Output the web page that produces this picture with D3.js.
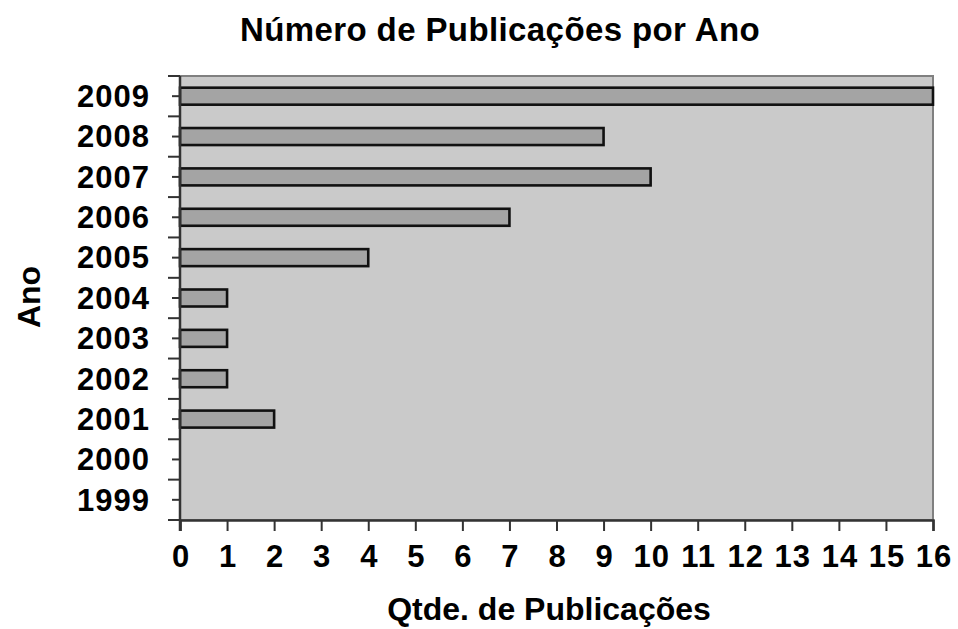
<!DOCTYPE html>
<html>
<head>
    <style>
        body { margin: 0; background: #fff; }
        text { font-family: "Liberation Sans", Arial, sans-serif; fill: #000; }
        .title { font-size: 33px; font-weight: bold; letter-spacing: 0.4px; }
        .tick text { font-size: 31px; font-weight: bold; letter-spacing: 1px; }
        .axis-title { font-size: 32px; font-weight: bold; }
    </style>
    <script src="https://d3js.org/d3.v7.min.js"></script>
</head>
<body>
    <svg width="958" height="629"></svg>
    <script>
        var anos = ["1999", "2000", "2001", "2002", "2003", "2004", "2005", "2006", "2007", "2008", "2009"];
        var publicacoes = [0, 0, 2, 1, 1, 1, 4, 7, 10, 9, 16];
        var xTicks = [0, 1, 2, 3, 4, 5, 6, 7, 8, 9, 10, 11, 12, 13, 14, 15, 16];

        var data = anos.map(function(a, i) { return { ano: a, n: publicacoes[i] }; });

        var svg = d3.select("svg");
        var pLeft = 180, pRight = 933, pTop = 76, pBottom = 520;

        var x = d3.scaleLinear().domain([0, 16]).range([pLeft, pRight]);
        var yb = d3.scaleBand().domain(anos.slice().reverse()).range([pTop, pBottom]);

        // plot area
        svg.append("rect")
           .attr("x", pLeft).attr("y", pTop)
           .attr("width", pRight - pLeft).attr("height", pBottom - pTop)
           .attr("fill", "#cacaca")
           .attr("stroke", "#808080")
           .attr("stroke-width", 2);

        // bars
        svg.selectAll(".bar")
           .data(data.filter(function(d) { return d.n > 0; }))
           .enter().append("rect")
           .attr("class", "bar")
           .attr("x", x(0))
           .attr("y", function(d) { return yb(d.ano) + yb.bandwidth() / 2 - 8.5; })
           .attr("width", function(d) { return x(d.n) - x(0); })
           .attr("height", 17)
           .attr("fill", "#a4a4a4")
           .attr("stroke", "#111")
           .attr("stroke-width", 2.6);

        // x axis
        var xAxis = svg.append("g")
           .attr("transform", "translate(0," + pBottom + ")")
           .call(d3.axisBottom(x).tickValues(xTicks).tickSize(11).tickPadding(14).tickFormat(d3.format("d")));
        xAxis.selectAll("text").attr("font-family", null).attr("font-size", null).attr("dx", "0.5px");
        xAxis.select(".domain").attr("stroke", "#333").attr("stroke-width", 2.5);
        xAxis.selectAll(".tick line").attr("stroke", "#333").attr("stroke-width", 2);

        // y axis: long ticks at band edges, short ticks at centres
        var edges = yb.domain().map(function(a) { return yb(a); }).concat([pBottom]);
        svg.selectAll(".ytick-major")
           .data(edges)
           .enter().append("line")
           .attr("x1", pLeft - 12).attr("x2", pLeft)
           .attr("y1", function(d) { return d; }).attr("y2", function(d) { return d; })
           .attr("stroke", "#333").attr("stroke-width", 2);
        svg.selectAll(".ytick-minor")
           .data(anos)
           .enter().append("line")
           .attr("x1", pLeft - 8).attr("x2", pLeft)
           .attr("y1", function(d) { return yb(d) + yb.bandwidth() / 2; })
           .attr("y2", function(d) { return yb(d) + yb.bandwidth() / 2; })
           .attr("stroke", "#333").attr("stroke-width", 2);
        svg.append("line")
           .attr("x1", pLeft).attr("x2", pLeft).attr("y1", pTop).attr("y2", pBottom + 11)
           .attr("stroke", "#333").attr("stroke-width", 2.5);

        svg.append("g").attr("class", "tick")
           .selectAll("text")
           .data(anos)
           .enter().append("text")
           .attr("x", 150)
           .attr("y", function(d) { return yb(d) + yb.bandwidth() / 2; })
           .attr("dy", "0.35em")
           .attr("text-anchor", "end")
           .text(function(d) { return d; });

        // titles
        svg.append("text").attr("class", "title")
           .attr("x", 500).attr("y", 41).attr("text-anchor", "middle")
           .text("Número de Publicações por Ano");
        svg.append("text").attr("class", "axis-title")
           .attr("x", 549).attr("y", 620).attr("text-anchor", "middle")
           .text("Qtde. de Publicações");
        svg.append("text").attr("class", "axis-title")
           .attr("transform", "translate(40,297) rotate(-90)")
           .attr("text-anchor", "middle")
           .text("Ano");
    </script>
</body>
</html>
